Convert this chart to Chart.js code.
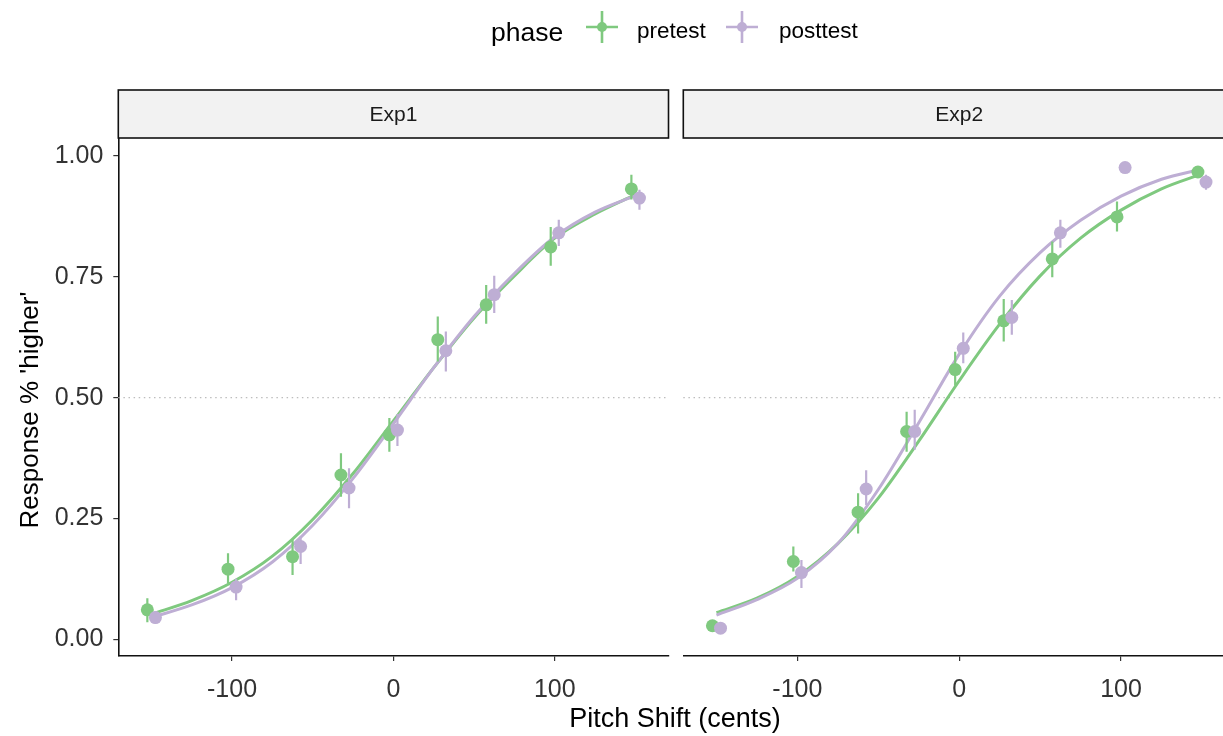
<!DOCTYPE html>
<html>
<head>
<meta charset="utf-8">
<script src="https://cdn.jsdelivr.net/npm/chart.js@4.4.0/dist/chart.umd.min.js"></script>
<style>
  html, body { margin: 0; padding: 0; background: #ffffff; }
  #wrap { position: relative; width: 1223px; height: 736px; overflow: hidden; background: #ffffff; }
  #wrap canvas { position: absolute; left: 0; top: 0; }
</style>
</head>
<body>
<div id="wrap">
  <canvas id="exp1" width="1223" height="736"></canvas>
  <canvas id="exp2" width="1223" height="736"></canvas>
</div>
<script>
// pitch shifts (cents) where responses were measured
const shifts = [-150, -100, -60, -30, 0, 30, 60, 100, 150];
// x positions of the fitted curves
const curveShifts = [-150, -125, -100, -75, -50, -25, 0, 25, 50, 75, 100, 125, 150];
const phases = ["pretest", "posttest"];
const facets = ["Exp1", "Exp2"];
const xTicks = [-100, 0, 100];
const yTicks = [0, 0.25, 0.5, 0.75, 1];
const refLevel = 0.5;

// Exp1
const exp1PreMean  = [0.061, 0.145, 0.171, 0.340, 0.423, 0.620, 0.692, 0.812, 0.932];
const exp1PreLo    = [0.035, 0.116, 0.133, 0.295, 0.388, 0.575, 0.653, 0.773, 0.910];
const exp1PreHi    = [0.085, 0.178, 0.206, 0.385, 0.458, 0.668, 0.733, 0.853, 0.961];
const exp1PostMean = [0.045, 0.108, 0.192, 0.313, 0.433, 0.597, 0.713, 0.841, 0.913];
const exp1PostLo   = [0.032, 0.081, 0.156, 0.271, 0.400, 0.554, 0.675, 0.814, 0.889];
const exp1PostHi   = [0.058, 0.125, 0.212, 0.354, 0.466, 0.637, 0.752, 0.868, 0.930];
const exp1PreFit   = [0.052, 0.080, 0.118, 0.172, 0.248, 0.343, 0.452, 0.562, 0.665, 0.752, 0.830, 0.880, 0.920];
const exp1PostFit  = [0.045, 0.071, 0.107, 0.160, 0.236, 0.333, 0.446, 0.562, 0.668, 0.757, 0.833, 0.884, 0.918];

// Exp2
const exp2PreMean  = [0.028, 0.161, 0.263, 0.430, 0.558, 0.659, 0.787, 0.874, 0.967];
const exp2PreLo    = [0.022, 0.140, 0.219, 0.388, 0.525, 0.616, 0.749, 0.844, 0.960];
const exp2PreHi    = [0.034, 0.192, 0.302, 0.471, 0.595, 0.704, 0.823, 0.906, 0.974];
const exp2PostMean = [0.023, 0.138, 0.311, 0.430, 0.602, 0.666, 0.841, 0.976, 0.946];
const exp2PostLo   = [0.017, 0.106, 0.278, 0.392, 0.571, 0.630, 0.810, 0.976, 0.930];
const exp2PostHi   = [0.029, 0.164, 0.350, 0.475, 0.635, 0.702, 0.868, 0.976, 0.961];
const exp2PreFit   = [0.055, 0.085, 0.130, 0.198, 0.292, 0.410, 0.535, 0.652, 0.752, 0.830, 0.888, 0.932, 0.963];
const exp2PostFit  = [0.050, 0.082, 0.126, 0.198, 0.310, 0.448, 0.590, 0.710, 0.800, 0.867, 0.917, 0.952, 0.973];

const GREEN = "#7FC97F";
const PURPLE = "#BEAED4";
const FONT = "'Liberation Sans', Arial, Helvetica, sans-serif";
const DODGE = 2.5;
const X_MIN = -170.5, X_MAX = 170.5;   // full panel range
const X_MAX_EXP2 = 163;                // right panel is cut off at the image edge
const Y_MIN = -0.0346, Y_MAX = 1.0373;

function pts(mean, off) {
  return shifts.map((s, i) => ({ x: s + off, y: mean[i] }));
}
function bars(lo, hi, off) {
  const out = [];
  shifts.forEach((s, i) => {
    out.push({ x: s + off, y: lo[i] }, { x: s + off, y: hi[i] }, { x: s + off, y: null });
  });
  return out;
}
function fit(vals) {
  return curveShifts.map((s, i) => ({ x: s, y: vals[i] }));
}

// panel decorations: strip on top, dotted 0.5 line
const panelDecor = {
  id: "panelDecor",
  beforeDatasetsDraw(chart) {
    const { ctx, chartArea } = chart;
    const yy = chart.scales.y.getPixelForValue(refLevel);
    ctx.save();
    ctx.strokeStyle = "#bdbdbd";
    ctx.lineWidth = 1.3;
    ctx.setLineDash([1.5, 3.6]);
    ctx.beginPath();
    ctx.moveTo(chartArea.left, yy);
    ctx.lineTo(chartArea.right, yy);
    ctx.stroke();
    ctx.restore();
  },
  afterDraw(chart, args, opts) {
    const { ctx, chartArea } = chart;
    const x = chart.scales.x;
    const l = x.getPixelForValue(X_MIN);
    const r = x.getPixelForValue(X_MAX);
    const top = 90, bot = chartArea.top;
    ctx.save();
    ctx.fillStyle = "#F2F2F2";
    ctx.fillRect(l, top, r - l, bot - top);
    ctx.strokeStyle = "#111111";
    ctx.lineWidth = 1.6;
    ctx.strokeRect(l, top, r - l, bot - top);
    ctx.fillStyle = "#1A1A1A";
    ctx.font = "21px " + FONT;
    ctx.textAlign = "center";
    ctx.textBaseline = "middle";
    ctx.fillText(opts.label, (l + r) / 2, (top + bot) / 2 + 1);
    ctx.restore();
  }
};

// titles and legend, drawn once on the left canvas
const pageText = {
  id: "pageText",
  afterDraw(chart) {
    const ctx = chart.ctx;
    ctx.save();
    ctx.fillStyle = "#000000";
    ctx.font = "27px " + FONT;
    ctx.textAlign = "center";
    ctx.textBaseline = "middle";
    ctx.fillText("Pitch Shift (cents)", 675, 720);
    ctx.font = "26px " + FONT;
    ctx.translate(31, 410);
    ctx.rotate(-Math.PI / 2);
    ctx.fillText("Response % 'higher'", 0, 0);
    ctx.restore();

    // legend
    ctx.save();
    ctx.textBaseline = "alphabetic";
    ctx.textAlign = "left";
    ctx.fillStyle = "#000000";
    ctx.font = "26.5px " + FONT;
    ctx.fillText("phase", 491, 41);
    const keys = [
      { cx: 602, color: GREEN, label: phases[0], tx: 637 },
      { cx: 742, color: PURPLE, label: phases[1], tx: 779 }
    ];
    keys.forEach(k => {
      ctx.strokeStyle = k.color;
      ctx.lineWidth = 2.6;
      ctx.beginPath();
      ctx.moveTo(k.cx - 16, 27); ctx.lineTo(k.cx + 16, 27);
      ctx.moveTo(k.cx, 11); ctx.lineTo(k.cx, 43);
      ctx.stroke();
      ctx.fillStyle = k.color;
      ctx.beginPath();
      ctx.arc(k.cx, 27, 5, 0, Math.PI * 2);
      ctx.fill();
      ctx.fillStyle = "#000000";
      ctx.font = "22.5px " + FONT;
      ctx.fillText(k.label, k.tx, 38);
    });
    ctx.restore();
  }
};

function makePanel(canvasId, label, preMean, preLo, preHi, postMean, postLo, postHi, preFit, postFit, first) {
  const datasets = [
    { data: pts(postMean, DODGE), showLine: false, pointRadius: 6.5, pointBackgroundColor: PURPLE, pointBorderWidth: 0 },
    { data: pts(preMean, -DODGE), showLine: false, pointRadius: 6.5, pointBackgroundColor: GREEN, pointBorderWidth: 0 },
    { data: bars(postLo, postHi, DODGE), borderColor: PURPLE, borderWidth: 2.2, pointRadius: 0, spanGaps: false },
    { data: bars(preLo, preHi, -DODGE), borderColor: GREEN, borderWidth: 2.2, pointRadius: 0, spanGaps: false },
    { data: fit(postFit), borderColor: PURPLE, borderWidth: 3, pointRadius: 0, cubicInterpolationMode: "monotone" },
    { data: fit(preFit), borderColor: GREEN, borderWidth: 3, pointRadius: 0, cubicInterpolationMode: "monotone" }
  ];

  const tickFont = { family: FONT, size: 25 };
  return new Chart(document.getElementById(canvasId), {
    type: "line",
    data: { datasets: datasets },
    options: {
      responsive: false,
      animation: false,
      devicePixelRatio: 1,
      events: [],
      layout: {
        autoPadding: false,
        padding: first ? { left: 0, right: 554.5, top: 138, bottom: 0 } : { left: 683.3, right: 0, top: 138, bottom: 0 }
      },
      plugins: {
        legend: { display: false },
        tooltip: { enabled: false },
        panelDecor: { label: label }
      },
      scales: {
        x: {
          type: "linear",
          min: X_MIN,
          max: first ? X_MAX : X_MAX_EXP2,
          afterBuildTicks: s => { s.ticks = xTicks.map(v => ({ value: v })); },
          afterFit: s => { s.height = 80; },
          ticks: { font: tickFont, color: "#333333", padding: 14, maxRotation: 0, callback: v => String(v) },
          grid: { drawOnChartArea: false, drawTicks: true, tickLength: 5, color: "#333333", lineWidth: 1.2 },
          border: { display: true, color: "#111111", width: 1.6 }
        },
        y: {
          type: "linear",
          display: first,
          min: Y_MIN,
          max: Y_MAX,
          afterBuildTicks: s => { s.ticks = yTicks.map(v => ({ value: v })); },
          afterFit: s => { s.width = first ? 118.3 : 0; },
          ticks: { font: tickFont, color: "#333333", padding: 10, callback: v => Number(v).toFixed(2) },
          grid: { drawOnChartArea: false, drawTicks: true, tickLength: 5, color: "#333333", lineWidth: 1.2 },
          border: { display: true, color: "#111111", width: 1.6 }
        }
      }
    },
    plugins: first ? [panelDecor, pageText] : [panelDecor]
  });
}

makePanel("exp1", facets[0], exp1PreMean, exp1PreLo, exp1PreHi, exp1PostMean, exp1PostLo, exp1PostHi, exp1PreFit, exp1PostFit, true);
makePanel("exp2", facets[1], exp2PreMean, exp2PreLo, exp2PreHi, exp2PostMean, exp2PostLo, exp2PostHi, exp2PreFit, exp2PostFit, false);
</script>
</body>
</html>
